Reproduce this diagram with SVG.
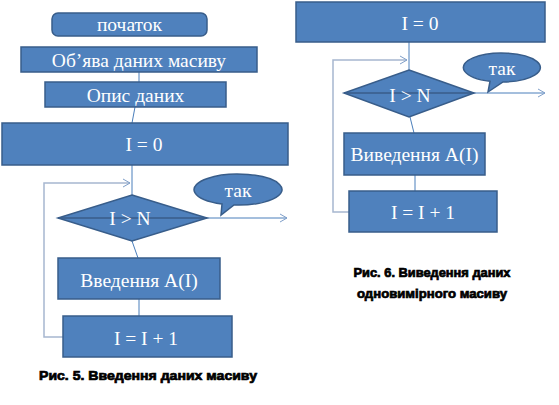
<svg xmlns="http://www.w3.org/2000/svg" width="559" height="405" viewBox="0 0 559 405">
<style>
.box{fill:#4f81bd;stroke:#385d8a;stroke-width:1.5}
.t{font-family:"Liberation Serif","Times New Roman",serif;font-size:19.5px;fill:#fff;text-anchor:middle}
.c{stroke:#4a7ebb;stroke-width:1;fill:none}
.l{stroke:#a7b7d0;stroke-width:1.5;fill:none}
.cap{font-family:"Liberation Sans",Arial,sans-serif;font-weight:bold;font-size:12.5px;fill:#000;stroke:#000;stroke-width:0.7;text-anchor:middle}
</style>
<defs>
<marker id="open" markerWidth="10" markerHeight="10" refX="8" refY="5" orient="auto" markerUnits="userSpaceOnUse">
<path d="M1,1 L8,5 L1,9" fill="none" stroke="#7f9fc9" stroke-width="1"/>
</marker>
</defs>
<rect width="559" height="405" fill="#fff"/>
<g id="connectors">
<line class="c" x1="139" y1="72" x2="139" y2="82"/>
<line class="c" x1="135" y1="107" x2="132" y2="123"/>
<line class="c" x1="132" y1="165" x2="132" y2="195"/>
<polyline class="l" points="63,337 44,337 44,183 130,183" marker-end="url(#open)"/>
<line class="c" x1="58" y1="218" x2="287" y2="218" marker-end="url(#open)"/>
<line class="c" x1="132" y1="241" x2="138" y2="258"/>
<line class="c" x1="139" y1="299" x2="139" y2="316"/>
<line class="c" x1="409" y1="42" x2="409" y2="70"/>
<polyline class="l" points="349,212 333,212 333,60 407,60" marker-end="url(#open)"/>
<line class="c" x1="344" y1="93" x2="545" y2="93" marker-end="url(#open)"/>
<line class="c" x1="410" y1="117" x2="414" y2="133"/>
<line class="c" x1="415" y1="175" x2="415" y2="191"/>
</g>
<g id="start"><rect class="box" x="52" y="13" width="155" height="23" rx="6"/><text class="t" x="129.5" y="31">початок</text></g>
<g id="declare"><rect class="box" x="21" y="47" width="236" height="25"/><text class="t" x="139" y="66.5">Об’ява даних масиву</text></g>
<g id="describe"><rect class="box" x="45" y="82" width="181" height="25"/><text class="t" x="135.5" y="101.5">Опис даних</text></g>
<g id="init1"><rect class="box" x="2" y="123" width="286" height="42"/><text class="t" x="144" y="150.5">I = 0</text></g>
<g id="cond1"><polygon class="box" points="132,195 207,218 132,241 58,218"/><line x1="58" y1="218" x2="207" y2="218" stroke="#385d8a" stroke-width="1.5"/><text class="t" x="130" y="224.5">I &gt; N</text></g>
<g id="yes1"><path class="box" d="M222,204 A44,15.5 0 1 1 234,205 L221,215 Z"/><text class="t" x="238" y="197">так</text></g>
<g id="input1"><rect class="box" x="58" y="258" width="162" height="41"/><text class="t" x="139" y="287">Введення A(I)</text></g>
<g id="inc1"><rect class="box" x="63" y="316" width="169" height="41"/><text class="t" x="146" y="344.5">I = I + 1</text></g>
<g id="cap1"><text class="cap" x="148" y="380" textLength="218" lengthAdjust="spacingAndGlyphs">Рис. 5. Введення даних масиву</text></g>
<g id="init2"><rect class="box" x="296" y="2" width="249" height="40"/><text class="t" x="420" y="29.5">I = 0</text></g>
<g id="cond2"><polygon class="box" points="409,70 474,93 409,117 344,93"/><line x1="344" y1="93" x2="474" y2="93" stroke="#385d8a" stroke-width="1.5"/><text class="t" x="410" y="101.5">I &gt; N</text></g>
<g id="yes2"><path class="box" d="M490,81.3 A38.5,14.5 0 1 1 503,82 L488,92 Z"/><text class="t" x="502" y="75">так</text></g>
<g id="output2"><rect class="box" x="344" y="133" width="141" height="42"/><text class="t" x="414.5" y="160.5">Виведення A(I)</text></g>
<g id="inc2"><rect class="box" x="349" y="191" width="148" height="41"/><text class="t" x="423" y="218.5">I = I + 1</text></g>
<g id="cap2"><text class="cap" x="432" y="277" textLength="157" lengthAdjust="spacingAndGlyphs">Рис. 6. Виведення даних</text><text class="cap" x="432" y="298" textLength="150" lengthAdjust="spacingAndGlyphs">одновимірного масиву</text></g>
</svg>
